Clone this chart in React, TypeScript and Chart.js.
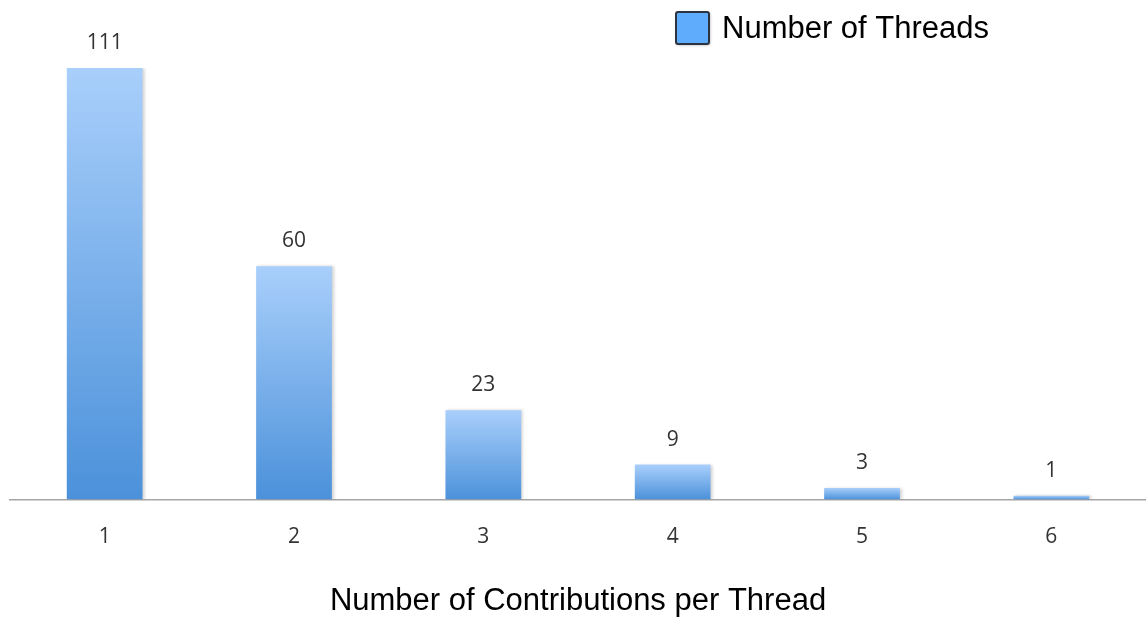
import React, { useEffect, useRef } from "react";
import { Chart, registerables } from "chart.js";

Chart.register(...registerables);

const categories = ["1", "2", "3", "4", "5", "6"];
const threadCounts = [111, 60, 23, 9, 3, 1];
const seriesLabel = "Number of Threads";
const xAxisTitle = "Number of Contributions per Thread";

const legendPlugin = {
  id: "customLegend",
  afterDraw(chart: any) {
    const ctx = chart.ctx;
    ctx.save();
    const bx = 676, by = 12, bw = 33, bh = 32;
    ctx.shadowColor = "rgba(0,0,0,0.35)";
    ctx.shadowBlur = 3;
    ctx.shadowOffsetX = 1;
    ctx.shadowOffsetY = 1;
    ctx.fillStyle = "#5eacfb";
    ctx.beginPath();
    ctx.roundRect(bx, by, bw, bh, 2);
    ctx.fill();
    ctx.shadowColor = "transparent";
    ctx.lineWidth = 2;
    ctx.strokeStyle = "#2b3440";
    ctx.stroke();
    ctx.fillStyle = "#000";
    ctx.font = "31px 'Liberation Sans', Arial, sans-serif";
    ctx.textBaseline = "middle";
    ctx.textAlign = "left";
    ctx.fillText(chart.data.datasets[0].label, 722, 29);
    ctx.restore();
  },
};

const valueLabelPlugin = {
  id: "valueLabels",
  afterDatasetsDraw(chart: any) {
    const ctx = chart.ctx;
    const meta = chart.getDatasetMeta(0);
    ctx.save();
    ctx.fillStyle = "#333";
    ctx.font = "21px 'Open Sans', sans-serif";
    ctx.textAlign = "center";
    ctx.textBaseline = "middle";
    meta.data.forEach((el: any, i: number) => {
      ctx.fillText(String(chart.data.datasets[0].data[i]), el.x, el.y - 25);
    });
    ctx.restore();
  },
};

const shadowPlugin = {
  id: "barShadow",
  beforeDatasetDraw(chart: any) {
    const ctx = chart.ctx;
    ctx.save();
    ctx.shadowColor = "rgba(0,0,0,0.18)";
    ctx.shadowBlur = 3;
    ctx.shadowOffsetX = 2;
    ctx.shadowOffsetY = 0;
  },
  afterDatasetDraw(chart: any) {
    chart.ctx.restore();
  },
};

export default function App() {
  const ref = useRef<HTMLCanvasElement | null>(null);
  useEffect(() => {
    if (!ref.current) return;
    const chart = new Chart(ref.current, {
      type: "bar",
      data: {
        labels: categories,
        datasets: [
          {
            label: seriesLabel,
            data: threadCounts,
            backgroundColor: (c: any) => {
              const ch = c.chart;
              const ys = ch.scales?.y;
              if (!ys || c.raw === undefined) return "#6aa6e6";
              const top = ys.getPixelForValue(c.raw);
              const bottom = ys.getPixelForValue(0);
              if (!isFinite(top) || !isFinite(bottom) || top === bottom) return "#6aa6e6";
              const g = ch.ctx.createLinearGradient(0, top, 0, bottom);
              g.addColorStop(0, "#a9cffb");
              g.addColorStop(1, "#4b91da");
              return g;
            },
            borderWidth: 0,
            barPercentage: 0.8,
            categoryPercentage: 0.5,
          },
        ],
      },
      options: {
        animation: false,
        responsive: false,
        maintainAspectRatio: false,
        layout: { padding: { top: 68, left: 10, right: 0, bottom: 0 } },
        plugins: { legend: { display: false }, tooltip: { enabled: false } },
        scales: {
          x: {
            grid: { display: false, drawTicks: false },
            border: { display: true, color: "#a6a6a6", width: 1.5 },
            ticks: {
              color: "#333",
              font: { family: "'Open Sans', sans-serif", size: 21 },
              padding: 25,
            },
            title: {
              display: true,
              text: xAxisTitle,
              color: "#000",
              font: { family: "'Liberation Sans', Arial, sans-serif", size: 31 },
              padding: { top: 8, bottom: -2 },
            },
          },
          y: {
            display: false,
            min: 0,
            max: 111,
          },
        },
      },
      plugins: [shadowPlugin, valueLabelPlugin, legendPlugin],
    });
    return () => chart.destroy();
  }, []);
  return (
    <div style={{ position: "absolute", left: 0, top: 0, width: 1146, height: 618, background: "#fff" }}>
      <canvas ref={ref} width={1146} height={618} style={{ display: "block" }} />
    </div>
  );
}
